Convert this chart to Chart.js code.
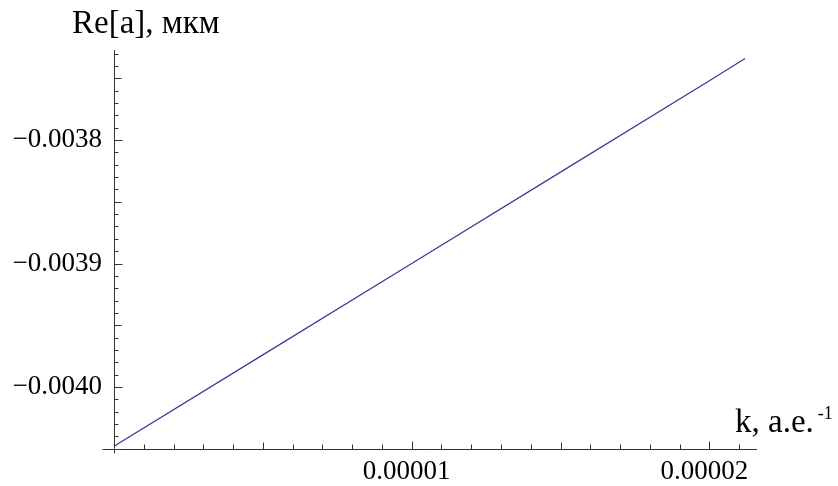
<!DOCTYPE html>
<html>
<head>
<meta charset="utf-8">
<script src="https://cdn.jsdelivr.net/npm/chart.js@4/dist/chart.umd.min.js"></script>
<style>
  html, body { margin: 0; padding: 0; background: #fff; }
  canvas { display: block; }
</style>
</head>
<body>
<canvas id="myChart" width="838" height="486"></canvas>
<script>
// values
const kValues = [0, 0.000005, 0.00001, 0.000015, 0.00002, 0.0000212];
const reValues = [-0.004048, -0.003974, -0.003900, -0.003826, -0.003752, -0.003734];

const xTickValues = [0.00001, 0.00002];
const xTickLabels = ['0.00001', '0.00002'];
const yTickValues = [-0.0040, -0.0039, -0.0038];
const yTickLabels = ['\u22120.0040', '\u22120.0039', '\u22120.0038'];

const yAxisTitle = 'Re[a], мкм';
const xAxisTitle = 'k, a.e.';
const xAxisTitleSup = '-1';

const FONT = '"Liberation Serif", "Times New Roman", serif';

function drawText(ctx, text, x, y, size, align) {
    ctx.font = size + 'px ' + FONT;
    ctx.textAlign = align;
    ctx.textBaseline = 'alphabetic';
    ctx.fillText(text, x, y);
    return ctx.measureText(text).width;
}

const axesPlugin = {
    id: 'mathAxes',
    afterDraw: function(chart) {
        var ctx = chart.ctx;
        var xs = chart.scales.x;
        var ys = chart.scales.y;
        var area = chart.chartArea;
        var x0 = Math.round(xs.getPixelForValue(0)) + 0.5;
        var yb = Math.round(area.bottom) + 0.5;

        ctx.save();
        ctx.strokeStyle = '#333';
        ctx.lineWidth = 1;

        // axis lines
        ctx.beginPath();
        ctx.moveTo(x0 - 12, yb);
        ctx.lineTo(area.right, yb);
        ctx.moveTo(x0, area.top);
        ctx.lineTo(x0, yb + 4);
        ctx.stroke();

        // x ticks (pointing up)
        ctx.beginPath();
        for (var i = 1; i <= 21; i++) {
            var v = i * 1e-6;
            if (v > xs.max) break;
            var px = Math.round(xs.getPixelForValue(v)) + 0.5;
            var len = i % 10 === 0 ? 8 : (i % 5 === 0 ? 7 : 5);
            ctx.moveTo(px, yb);
            ctx.lineTo(px, yb - len);
        }
        // y ticks (pointing right)
        for (var j = -405; j <= -372; j++) {
            var vy = j * 1e-5;
            if (vy < ys.min || vy > ys.max) continue;
            var py = Math.round(ys.getPixelForValue(vy)) + 0.5;
            var ylen = j % 10 === 0 ? 8 : (j % 5 === 0 ? 7 : 4);
            ctx.moveTo(x0, py);
            ctx.lineTo(x0 + ylen, py);
        }
        ctx.stroke();

        // tick labels
        ctx.fillStyle = '#000';
        xTickValues.forEach(function(v, k) {
            drawText(ctx, xTickLabels[k], xs.getPixelForValue(v) - 5, 479, 27, 'center');
        });
        yTickValues.forEach(function(v, k) {
            drawText(ctx, yTickLabels[k], 102, ys.getPixelForValue(v) + 7, 27, 'right');
        });

        // axis titles
        drawText(ctx, yAxisTitle, 72, 33, 33, 'left');
        var w = drawText(ctx, xAxisTitle, 735, 432, 33, 'left');
        drawText(ctx, xAxisTitleSup, 735 + w + 4, 419, 18, 'left');
        ctx.restore();
    }
};

const config = {
    type: 'line',
    data: {
        datasets: [{
            data: kValues.map(function(k, i) { return { x: k, y: reValues[i] }; }),
            borderColor: '#3d3d99',
            borderWidth: 1.3,
            pointRadius: 0,
            tension: 0,
            fill: false
        }]
    },
    options: {
        responsive: false,
        animation: false,
        devicePixelRatio: 1,
        layout: {
            padding: { top: 50, right: 81, left: 0, bottom: 0 }
        },
        plugins: {
            legend: { display: false },
            tooltip: { enabled: false }
        },
        scales: {
            x: {
                type: 'linear',
                min: 0,
                max: 0.0000216,
                grid: { display: false },
                border: { display: false },
                ticks: { display: false },
                afterFit: function(scale) { scale.height = 37; }
            },
            y: {
                type: 'linear',
                min: -0.0040502,
                max: -0.0037271,
                grid: { display: false },
                border: { display: false },
                ticks: { display: false },
                afterFit: function(scale) { scale.width = 114; }
            }
        }
    },
    plugins: [axesPlugin]
};

new Chart(document.getElementById('myChart'), config);
</script>
</body>
</html>
